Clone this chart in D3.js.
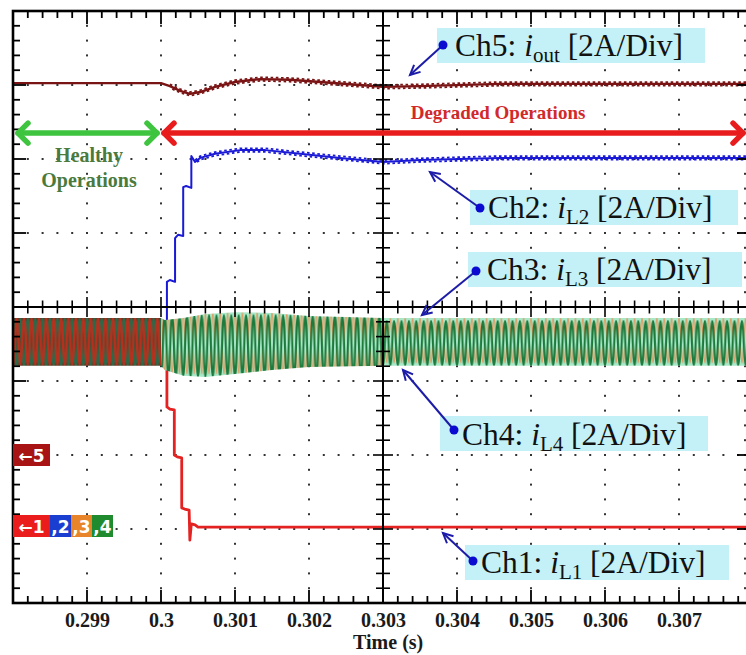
<!DOCTYPE html>
<html>
<head>
<meta charset="utf-8">
<script src="https://cdn.jsdelivr.net/npm/d3@7"></script>
<style>
  body { margin: 0; background: #fff; }
  svg { display: block; }
  text { white-space: pre; }
</style>
</head>
<body>
<div id="chart"></div>
<script>
"use strict";

// time axis
const tickTimes = [0.299, 0.300, 0.301, 0.302, 0.303, 0.304, 0.305, 0.306, 0.307];
const tickLabels = ["0.299", "0.3", "0.301", "0.302", "0.303", "0.304", "0.305", "0.306", "0.307"];

// Ch5 i_out (A), ground marker at -2 div
const ch5T = [0.298, 0.300, 0.30012, 0.30026, 0.30039, 0.30053, 0.30073, 0.30100, 0.30134, 0.30174, 0.30215, 0.30269, 0.303, 0.3035, 0.30458, 0.308];
const ch5A = [10.05, 10.05, 9.97, 9.84, 9.76, 9.81, 9.95, 10.08, 10.16, 10.14, 10.08, 10.0, 9.95, 9.97, 10.03, 10.03];

// Ch2 i_L2 (A), ground marker at -3 div
const ch2T = [0.298, 0.30007, 0.30008, 0.30008, 0.30012, 0.30019, 0.30019, 0.30023, 0.30030, 0.30030, 0.30034, 0.30041, 0.30041, 0.30046, 0.30053, 0.30073, 0.30107, 0.30141, 0.30188, 0.30242, 0.303, 0.3035, 0.30458, 0.308];
const ch2A = [5.0, 5.0, 5.0, 6.68, 6.73, 6.68, 7.86, 7.95, 7.92, 9.24, 9.27, 9.22, 10.08, 9.92, 10.03, 10.14, 10.24, 10.24, 10.14, 10.03, 9.92, 9.97, 10.03, 10.03];

// Ch1 i_L1 (A)
const ch1T = [0.298, 0.30007, 0.30008, 0.30008, 0.30012, 0.30018, 0.30018, 0.30022, 0.30028, 0.30028, 0.30032, 0.30038, 0.30039, 0.30041, 0.30046, 0.30050, 0.308];
const ch1A = [5.0, 5.0, 5.0, 3.30, 3.24, 3.22, 2.0, 1.95, 1.92, 0.57, 0.54, 0.51, -0.30, 0.14, 0.11, 0.05, 0.05];

// Ch3/Ch4 switching band envelope (A)
const bandT  = [0.298, 0.300, 0.30005, 0.3003, 0.3006, 0.301, 0.3015, 0.302, 0.303, 0.308];
const bandHi = [5.70, 5.70, 5.65, 5.70, 5.81, 5.86, 5.84, 5.76, 5.70, 5.70];
const bandLo = [4.41, 4.41, 4.30, 4.14, 4.11, 4.19, 4.30, 4.38, 4.41, 4.41];
const switchPeriod = 0.0001;   // s
const bandBreaks = [0.298, 0.300, 0.303, 0.308];

const W = 746, H = 655;
const serif = "'Liberation Serif', 'Times New Roman', serif";
const sans = "'DejaVu Sans', Arial, sans-serif";

const x = d3.scaleLinear().domain([0.298, 0.308]).range([13, 753]);
const yDiv = d3.scaleLinear().domain([-4, 4]).range([603, 11]);
const yA = (ground, a) => yDiv(ground + a / 2);   // 2 A/Div
const GND14 = -3, GND5 = -2;

const svg = d3.select("#chart").append("svg")
    .attr("width", W).attr("height", H);
svg.append("rect").attr("width", W).attr("height", H).attr("fill", "#fff");

const defs = svg.append("defs");

// ---- grid dots
const xMajor = d3.range(0, 11).map(i => 0.298 + i * 0.001);
const xMinor = d3.range(0, 51).map(i => 0.298 + i * 0.0002);
const yMajor = d3.range(-4, 5);
const yMinor = d3.range(0, 41).map(i => -4 + i * 0.2);

const grid = svg.append("g");
xMajor.filter((t, i) => i > 0 && i !== 5).forEach(t => {
  grid.selectAll(null).data(yMinor).enter().append("rect")
    .attr("x", Math.min(x(t), 745) - 1).attr("y", d => yDiv(d) - 1)
    .attr("width", 2).attr("height", 2).attr("fill", "#333");
});
yMajor.filter(d => d !== -4 && d !== 4 && d !== 0).forEach(d => {
  grid.selectAll(null).data(xMinor).enter().append("rect")
    .attr("x", t => x(t) - 1).attr("y", yDiv(d) - 1)
    .attr("width", 2).attr("height", 2).attr("fill", "#333");
});

// ---- traces
const line = d3.line().x(d => d[0]).y(d => d[1]);
const traces = svg.append("g");

function trace(tArr, aArr, ground, color, width, rippleFrom) {
  const pts = tArr.map((t, i) => [x(t), yA(ground, aArr[i])]);
  traces.append("path").attr("d", line(pts))
    .attr("fill", "none").attr("stroke", color)
    .attr("stroke-width", width).attr("stroke-linejoin", "round");
  if (rippleFrom === undefined) return;
  const rp = pts.filter((p, i) => tArr[i] >= rippleFrom);
  [[-1.8, 0], [1.8, 2.6]].forEach(([dy, off]) => {
    traces.append("path").attr("d", line(rp))
      .attr("transform", `translate(0,${dy})`)
      .attr("fill", "none").attr("stroke", color)
      .attr("stroke-width", 1.8)
      .attr("stroke-dasharray", "2.6 2.6")
      .attr("stroke-dashoffset", off);
  });
}

trace(ch1T, ch1A, GND14, "#e42222", 2.8);
trace(ch2T, ch2A, GND14, "#1a1ad6", 2, 0.30046);

// switching band (Ch3 / Ch4, and Ch1..Ch4 before the fault)
const P = x(0.298 + switchPeriod) - x(0.298);
function wave(top, bot, shift) {
  const a = shift ? bot : top, b = shift ? top : bot;
  return `M0,${b} C${P * 0.2},${b} ${P * 0.3},${a} ${P * 0.5},${a} C${P * 0.7},${a} ${P * 0.8},${b} ${P},${b}`;
}
const bandG = svg.append("g");
bandBreaks.slice(0, -1).forEach((t0, k) => {
  const t1 = bandBreaks[k + 1];
  const idx = bandT.map((t, i) => i).filter(i => bandT[i] >= t0 && bandT[i] <= t1);
  const yTop = yA(GND14, d3.max(idx, i => bandHi[i])) - 1;
  const yBot = yA(GND14, d3.min(idx, i => bandLo[i])) + 1;
  const h = yBot - yTop;
  const pat = defs.append("pattern").attr("id", "sw" + k)
    .attr("patternUnits", "userSpaceOnUse")
    .attr("x", x(0.300)).attr("y", yTop).attr("width", P).attr("height", h);
  if (k === 0) {
    pat.append("rect").attr("width", P).attr("height", h).attr("fill", "#5e3a24");
    pat.append("path").attr("d", wave(2, h - 1.5, true)).attr("fill", "none")
      .attr("stroke", "#2a6a4a").attr("stroke-width", 2.4);
    pat.append("path").attr("d", wave(1.5, h - 2.5, false)).attr("fill", "none")
      .attr("stroke", "#b3321f").attr("stroke-width", 2.4);
  } else {
    pat.append("rect").attr("width", P).attr("height", h).attr("fill", "#a8e8c8");
    pat.append("path").attr("d", wave(1, h - 4, true)).attr("fill", "none")
      .attr("stroke", "#ee8a4c").attr("stroke-width", 1.2);
    pat.append("path").attr("d", wave(4, h - 1.5, false)).attr("fill", "none")
      .attr("stroke", "#1d7a3c").attr("stroke-width", 2.0);
  }
  const area = d3.area()
    .x(i => x(bandT[i]))
    .y0(i => yA(GND14, bandLo[i]))
    .y1(i => yA(GND14, bandHi[i]));
  bandG.append("path").attr("d", area(idx)).attr("fill", `url(#sw${k})`);
});

trace(ch5T, ch5A, GND5, "#7a1414", 2.4, 0.3001);

// ---- frame and centre axes
const axes = svg.append("g").attr("stroke", "#000");
axes.append("rect")
  .attr("x", x(0.298)).attr("y", yDiv(4))
  .attr("width", x(0.308) - x(0.298)).attr("height", yDiv(-4) - yDiv(4))
  .attr("fill", "none").attr("stroke-width", 2.6);

const isMajX = t => Math.abs(Math.round((t - 0.298) / 0.001) * 0.001 - (t - 0.298)) < 1e-7;
const isMajY = d => Math.abs(d - Math.round(d)) < 1e-6;

xMinor.forEach(t => {
  const L = isMajX(t) ? 13 : 7;
  axes.append("line").attr("x1", x(t)).attr("x2", x(t))
    .attr("y1", yDiv(4)).attr("y2", yDiv(4) + L).attr("stroke-width", 1.8);
  axes.append("line").attr("x1", x(t)).attr("x2", x(t))
    .attr("y1", yDiv(-4)).attr("y2", yDiv(-4) - L).attr("stroke-width", 1.8);
  const c = isMajX(t) ? 10 : 6.5;
  axes.append("line").attr("x1", x(t)).attr("x2", x(t))
    .attr("y1", yDiv(0) - c).attr("y2", yDiv(0) + c).attr("stroke-width", 1.6);
});
yMinor.forEach(d => {
  const L = isMajY(d) ? 13 : 7;
  axes.append("line").attr("x1", x(0.298)).attr("x2", x(0.298) + L)
    .attr("y1", yDiv(d)).attr("y2", yDiv(d)).attr("stroke-width", 1.8);
  if (isMajY(d)) {
    axes.append("line").attr("x1", 746).attr("x2", 737)
      .attr("y1", yDiv(d)).attr("y2", yDiv(d)).attr("stroke-width", 1.8);
  }
  const c = isMajY(d) ? 10 : 7;
  axes.append("line").attr("x1", x(0.303) - c).attr("x2", x(0.303) + c)
    .attr("y1", yDiv(d)).attr("y2", yDiv(d)).attr("stroke-width", 1.6);
});
axes.append("line").attr("x1", x(0.298)).attr("x2", x(0.308))
  .attr("y1", yDiv(0)).attr("y2", yDiv(0)).attr("stroke-width", 2);
axes.append("line").attr("x1", x(0.303)).attr("x2", x(0.303))
  .attr("y1", yDiv(4)).attr("y2", yDiv(-4)).attr("stroke-width", 2);

// ---- bottom tick labels
const xAxis = d3.axisBottom(x).tickValues(tickTimes)
  .tickFormat((d, i) => tickLabels[i]).tickSize(0).tickPadding(0);
const xg = svg.append("g").attr("transform", `translate(0,${yDiv(-4) + 5})`).call(xAxis);
xg.select(".domain").remove();
xg.selectAll("text")
  .attr("dy", "0.95em")
  .style("font-family", serif).style("font-weight", "bold")
  .style("font-size", "20px").attr("fill", "#1a1a1a");
svg.append("text").attr("x", x(0.30307)).attr("y", 649)
  .attr("text-anchor", "middle")
  .style("font-family", serif).style("font-weight", "bold").style("font-size", "20px")
  .attr("fill", "#1a1a1a").text("Time (s)");

// ---- operation arrows
const yArrow = yDiv(2.35);
function dblArrow(xa, xb, color) {
  const g = svg.append("g").attr("fill", "none").attr("stroke", color)
    .attr("stroke-width", 5.5).attr("stroke-linecap", "round").attr("stroke-linejoin", "round");
  g.append("line").attr("x1", xa).attr("x2", xb).attr("y1", yArrow).attr("y2", yArrow);
  g.append("polyline").attr("points", `${xa + 10},${yArrow - 10} ${xa},${yArrow} ${xa + 10},${yArrow + 10}`);
  g.append("polyline").attr("points", `${xb - 10},${yArrow - 10} ${xb},${yArrow} ${xb - 10},${yArrow + 10}`);
}
dblArrow(x(0.298) + 5, x(0.300) - 4, "#3ec43e");
dblArrow(x(0.300) + 3, 743, "#e81c1c");

svg.append("text").attr("x", 89).attr("y", 162).attr("text-anchor", "middle")
  .style("font-family", serif).style("font-weight", "bold").style("font-size", "20px")
  .attr("fill", "#4a7a3c").text("Healthy");
svg.append("text").attr("x", 89).attr("y", 187).attr("text-anchor", "middle")
  .style("font-family", serif).style("font-weight", "bold").style("font-size", "20px")
  .attr("fill", "#4a7a3c").text("Operations");
svg.append("text").attr("x", 498).attr("y", 119).attr("text-anchor", "middle")
  .style("font-family", serif).style("font-weight", "bold").style("font-size", "19px")
  .attr("fill", "#d22a2a").text("Degraded Operations");

// ---- ground markers
function marker(xs, y0, parts) {
  const g = svg.append("g");
  parts.forEach((p, i) => {
    g.append("rect").attr("x", xs[i]).attr("y", y0 - 11)
      .attr("width", xs[i + 1] - xs[i]).attr("height", 22).attr("fill", p[1]);
    g.append("text").attr("x", (xs[i] + xs[i + 1]) / 2).attr("y", y0 + 6.5)
      .attr("text-anchor", "middle")
      .style("font-family", sans).style("font-weight", "bold").style("font-size", "17px")
      .attr("fill", "#fff").text(p[0]);
  });
}
marker([13, 50], yDiv(GND5), [["\u21905", "#a81414"]]);
marker([13, 50, 71, 92, 113], yDiv(GND14) - 3,
  [["\u21901", "#ea1c1c"], [",2", "#1a3fd0"], [",3", "#e8842a"], [",4", "#1f8a2e"]]);

// ---- channel callouts
const callouts = [
  { box: [437, 28, 268, 35], dot: [443, 45], tip: [410, 75], tx: 455, ty: 56, ch: "Ch5: ", sub: "out" },
  { box: [470, 190, 268, 35], dot: [480, 208], tip: [430, 172], tx: 488, ty: 218, ch: "Ch2: ", sub: "L2" },
  { box: [468, 252, 274, 35], dot: [476, 271], tip: [422, 315], tx: 487, ty: 280, ch: "Ch3: ", sub: "L3" },
  { box: [440, 416, 268, 35], dot: [454, 430], tip: [403, 370], tx: 462, ty: 445, ch: "Ch4: ", sub: "L4" },
  { box: [465, 545, 264, 35], dot: [473, 561], tip: [443, 533], tx: 481, ty: 573, ch: "Ch1: ", sub: "L1" }
];
callouts.forEach(c => {
  const g = svg.append("g");
  g.append("rect").attr("x", c.box[0]).attr("y", c.box[1])
    .attr("width", c.box[2]).attr("height", c.box[3]).attr("fill", "#c4f1f7");
  const t = g.append("text").attr("x", c.tx).attr("y", c.ty)
    .style("font-family", serif).style("font-size", "31.5px").attr("fill", "#111");
  t.append("tspan").text(c.ch);
  t.append("tspan").style("font-style", "italic").text("i");
  t.append("tspan").style("font-size", "21px").attr("dy", 6).text(c.sub);
  t.append("tspan").attr("dy", -6).text(" [2A/Div]");
  const [x0, y0] = c.dot, [x1, y1] = c.tip;
  const ang = Math.atan2(y1 - y0, x1 - x0);
  const hl = 11, ha = 0.45;
  g.append("line").attr("x1", x0).attr("y1", y0).attr("x2", x1).attr("y2", y1)
    .attr("stroke", "#1c1ca8").attr("stroke-width", 2);
  g.append("polyline")
    .attr("points", [
      [x1 - hl * Math.cos(ang - ha), y1 - hl * Math.sin(ang - ha)],
      [x1, y1],
      [x1 - hl * Math.cos(ang + ha), y1 - hl * Math.sin(ang + ha)]
    ].map(p => p.join(",")).join(" "))
    .attr("fill", "none").attr("stroke", "#1c1ca8").attr("stroke-width", 2);
  g.append("circle").attr("cx", x0).attr("cy", y0).attr("r", 4.5).attr("fill", "#0a0ad0");
});
</script>
</body>
</html>
